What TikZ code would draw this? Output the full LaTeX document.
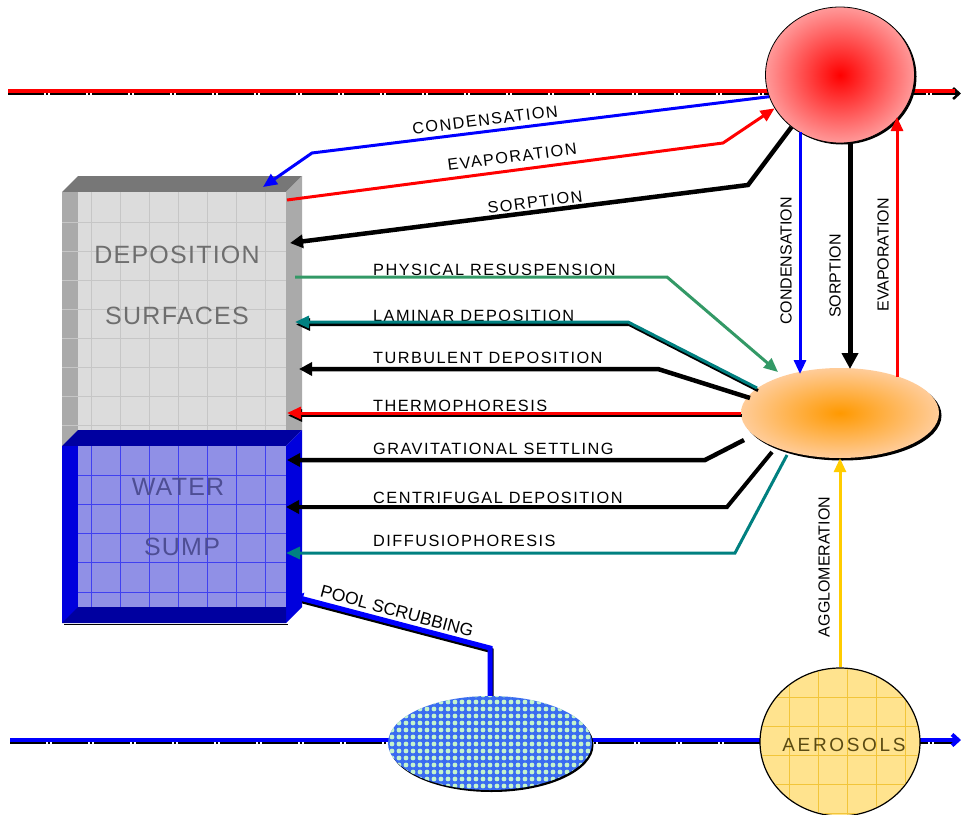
\documentclass[tikz,border=0pt]{standalone}
\usepackage{fontspec}
\setmainfont{Liberation Sans}
\newfontfamily\lblfont[LetterSpace=9]{Liberation Sans}
\newfontfamily\boxfont[LetterSpace=5]{Liberation Sans}
\newfontfamily\aerofont[LetterSpace=14]{Liberation Sans}
\usetikzlibrary{shapes.geometric,arrows.meta,patterns.meta}
\pgfdeclarelayer{background}
\pgfsetlayers{background,main}
\definecolor{grn}{HTML}{339966}
\definecolor{teal2}{HTML}{008080}
\definecolor{yel}{HTML}{FFCC00}
\definecolor{pinkout}{HTML}{FF9999}
\definecolor{orin}{HTML}{FF9900}
\definecolor{orout}{HTML}{FFCC99}
\definecolor{facegray}{HTML}{DCDCDC}
\definecolor{sidegray}{HTML}{AAAAAA}
\definecolor{topgray}{HTML}{777777}
\definecolor{gridgray}{HTML}{C6C6C6}
\definecolor{sumpface}{HTML}{9090E6}
\definecolor{sumpside}{HTML}{0000DD}
\definecolor{sumpdark}{HTML}{0000A0}
\definecolor{sumpgrid}{HTML}{4040F0}
\definecolor{deptext}{HTML}{6E6E6E}
\definecolor{sumptext}{HTML}{4E4E94}
\definecolor{aerofill}{HTML}{FFE38E}
\definecolor{aerogrid}{HTML}{F2C53A}
\definecolor{aerotext}{HTML}{5A4A12}
\definecolor{poolblue}{HTML}{3A6CF0}
\definecolor{poolgreen}{HTML}{C4F4CC}
\begin{document}
\begin{tikzpicture}[x=1pt,y=-1pt,
 lbl/.style={font=\lblfont\fontsize{16.3}{19}\selectfont, anchor=base west, inner sep=0pt},
 vlbl/.style={font=\fontsize{16}{19}\selectfont, rotate=90, inner sep=0pt},
 tlbl/.style={font=\lblfont\fontsize{16.3}{19}\selectfont, inner sep=0pt},
 boxlbl/.style={font=\boxfont\fontsize{25}{30}\selectfont, inner sep=0pt},
 ln/.style={line width=3pt},
 thk/.style={line width=4.5pt},
 tip/.style={-{Triangle[length=14pt,width=12pt]}},
 btip/.style={-{Triangle[length=13pt,width=13pt]}},
 shad/.style={transform canvas={xshift=1pt,yshift=-2.5pt}, draw=black},
]
\useasboundingbox (0,0) rectangle (961,814);

% ---------- box: deposition surfaces ----------
\fill[topgray] (62,192) -- (78,176) -- (302,176) -- (286,192) -- cycle;
\fill[sidegray] (62,192) rectangle (78,446);
\fill[sidegray] (286,192) -- (302,176) -- (302,430) -- (286,430) -- cycle;
\fill[facegray] (78,192) rectangle (286,430);
\foreach \x in {91,120,149,178,207,236,265}
  \draw[gridgray, line width=0.8pt] (\x,192) -- (\x,430);
\foreach \y in {222,251,280,309,338,367,396,425}
  \draw[gridgray, line width=0.8pt] (62,\y) -- (286,\y);
% ---------- box: water sump ----------
\fill[sumpdark] (62,446) -- (78,430) -- (302,430) -- (286,446) -- cycle;
\fill[sumpside] (62,446) rectangle (78,623);
\fill[sumpside] (286,446) -- (302,430) -- (302,607) -- (286,623) -- cycle;
\fill[sumpface] (78,446) rectangle (286,607);
\foreach \x in {91,120,149,178,207,236,265}
  \draw[sumpgrid, line width=0.6pt] (\x,446) -- (\x,607);
\foreach \y in {475,504,533,562,592}
  \draw[sumpgrid, line width=0.6pt] (78,\y) -- (286,\y);
\fill[sumpdark] (62,623) -- (78,607) -- (286,607) -- (286,623) -- cycle;
\draw[black, line width=1pt] (64,624) -- (288,624);

\node[boxlbl, text=deptext] (dep1) at (177,255) {DEPOSITION};
\node[boxlbl, text=deptext] (dep2) at (177,316) {SURFACES};
\node[boxlbl, text=sumptext] (sump1) at (178,487) {WATER};
\node[boxlbl, text=sumptext] (sump2) at (182,547) {SUMP};

% ---------- main nodes ----------
\fill[black] (842,76.5) ellipse [x radius=74.5, y radius=68];
\node[ellipse, minimum width=149pt, minimum height=136pt, inner sep=0pt,
      draw=black, line width=0.8pt, inner color=red, outer color=pinkout] (vap) at (840,75) {};
\fill[black] (842.5,415.5) ellipse [x radius=99, y radius=45];
\node[ellipse, minimum width=198pt, minimum height=90pt, inner sep=0pt,
      inner color=orin, outer color=orout] (susp) at (840,413) {};
\node[ellipse, minimum width=160pt, minimum height=148pt, inner sep=0pt,
      fill=aerofill, draw=black, line width=1.2pt] (aero) at (840,742) {};
\begin{scope}
\clip (840,742) ellipse [x radius=79, y radius=73];
\foreach \x in {789,818,847,876,905} \draw[aerogrid, line width=0.7pt] (\x,660) -- (\x,820);
\foreach \y in {697,726,755,784,813} \draw[aerogrid, line width=0.7pt] (750,\y) -- (930,\y);
\end{scope}
\node[font=\aerofont\fontsize{19}{22}\selectfont, text=aerotext, inner sep=0pt] (aerolbl) at (844,745) {AEROSOLS};
\fill[black] (491.5,745) ellipse [x radius=102, y radius=47];
\node[ellipse, minimum width=204pt, minimum height=94pt, inner sep=0pt, fill=poolblue,
      postaction={pattern={Dots[distance=7pt, radius=2.4pt]}, pattern color=poolgreen}] (pool) at (490,743) {};

% ---------- coordinates ----------
\coordinate (tlA) at (8,91);   \coordinate (tlB) at (955,91);
\coordinate (tkA) at (8,93.5); \coordinate (tkB) at (961,93.5);
\coordinate (blA) at (10,740); \coordinate (blB) at (961,740);
\coordinate (bkA) at (10,742.5); \coordinate (bkB) at (955,742.5);
\coordinate (psB) at (490,648); \coordinate (psT) at (294,596.5);
\coordinate (cA) at (312,153); \coordinate (cT) at (263,187);
\coordinate (eS) at (287,200); \coordinate (eB) at (723,143);
\coordinate (sB) at (748,185); \coordinate (sT) at (290,243);
\coordinate (prS) at (295,277); \coordinate (prB) at (667,277); \coordinate (prT) at (778,372);
\coordinate (laS) at (757,388); \coordinate (laB) at (628,322); \coordinate (laT) at (295,322);
\coordinate (tuS) at (750,398); \coordinate (tuB) at (658,369); \coordinate (tuT) at (299,369);
\coordinate (thT) at (287,413);
\coordinate (grS) at (744,440); \coordinate (grB) at (705,460); \coordinate (grT) at (287,460);
\coordinate (ceS) at (772,452); \coordinate (ceB) at (727,507); \coordinate (ceT) at (286,507);
\coordinate (diS) at (787,455); \coordinate (diB) at (735,553); \coordinate (diT) at (286,553);
\coordinate (coS) at (800,132); \coordinate (coT) at (800,374);
\coordinate (soS) at (850,142); \coordinate (soT) at (850,369);
\coordinate (evS) at (897,377); \coordinate (evT) at (897,117);

% ---------- background lines ----------
\begin{pgfonlayer}{background}
\fill[white] (0,0) rectangle (961,814);
\draw[black, line width=2.5pt, dash pattern=on 36pt off 2pt on 2pt off 2pt,
      -{Straight Barb[length=6pt,width=11pt]}] (tkA) -- (tkB);
\draw[red, line width=4pt] (tlA) -- (tlB);
\draw[black, line width=2.5pt, dash pattern=on 36pt off 2pt on 2pt off 2pt] (bkA) -- (bkB);
\draw[blue, line width=4pt, -{Straight Barb[length=6pt,width=11pt]}] (blA) -- (blB);
\draw[shad, line width=5pt, line join=miter] (pool.north) -- (psB) -- (psT);
\draw[blue, line width=5pt, line join=miter, -{Triangle[length=9pt,width=12pt]}] (pool.north) -- (psB) -- (psT);
\end{pgfonlayer}

% ---------- labels ----------
\node[tlbl, rotate=7] (lc) at (485,120) {CONDENSATION};
\node[tlbl, rotate=7.4] (le) at (512,157) {EVAPORATION};
\node[tlbl, rotate=7.3] (ls) at (535,202) {SORPTION};
\node[lbl] (l1) at (373,275) {PHYSICAL RESUSPENSION};
\node[lbl] (l2) at (373,321) {LAMINAR DEPOSITION};
\node[lbl] (l3) at (373,363) {TURBULENT DEPOSITION};
\node[lbl] (l4) at (373,411) {THERMOPHORESIS};
\node[lbl] (l5) at (373,454) {GRAVITATIONAL SETTLING};
\node[lbl] (l6) at (373,503) {CENTRIFUGAL DEPOSITION};
\node[lbl] (l7) at (373,546) {DIFFUSIOPHORESIS};
\node[vlbl] (vc) at (786,261) {CONDENSATION};
\node[vlbl] (vs) at (835,276) {SORPTION};
\node[vlbl] (ve) at (883,255) {EVAPORATION};
\node[vlbl] (va) at (824,567) {AGGLOMERATION};
\node[font=\fontsize{17.5}{20}\selectfont, inner sep=0pt, rotate=-15] (lp) at (397,611) {POOL SCRUBBING};

% ---------- connectors ----------
\draw[blue, ln, tip] (vap.197) -- (cA) -- (cT);
\draw[red, ln, tip] (eS) -- (eB) -- (vap.207);
\draw[black, thk, btip] (vap.227) -- (sB) -- (sT);

\draw[grn, ln, tip] (prS) -- (prB) -- (prT);
\draw[shad, ln, tip] (laS) -- (laB) -- (laT);
\draw[teal2, ln, tip] (laS) -- (laB) -- (laT);
\draw[black, thk, btip] (tuS) -- (tuB) -- (tuT);
\draw[shad, ln, tip] (susp.west) -- (thT);
\draw[red, ln, tip] (susp.west) -- (thT);
\draw[black, thk, btip] (grS) -- (grB) -- (grT);
\draw[black, line width=4pt, btip] (ceS) -- (ceB) -- (ceT);
\draw[teal2, ln, tip] (diS) -- (diB) -- (diT);

\draw[blue, ln, tip] (coS) -- (coT);
\draw[black, line width=5pt, -{Triangle[length=16pt,width=16pt]}] (soS) -- (soT);
\draw[red, ln, tip] (evS) -- (evT);
\draw[yel, line width=3pt, tip] (aero.north) -- (susp.south);
\end{tikzpicture}
\end{document}
